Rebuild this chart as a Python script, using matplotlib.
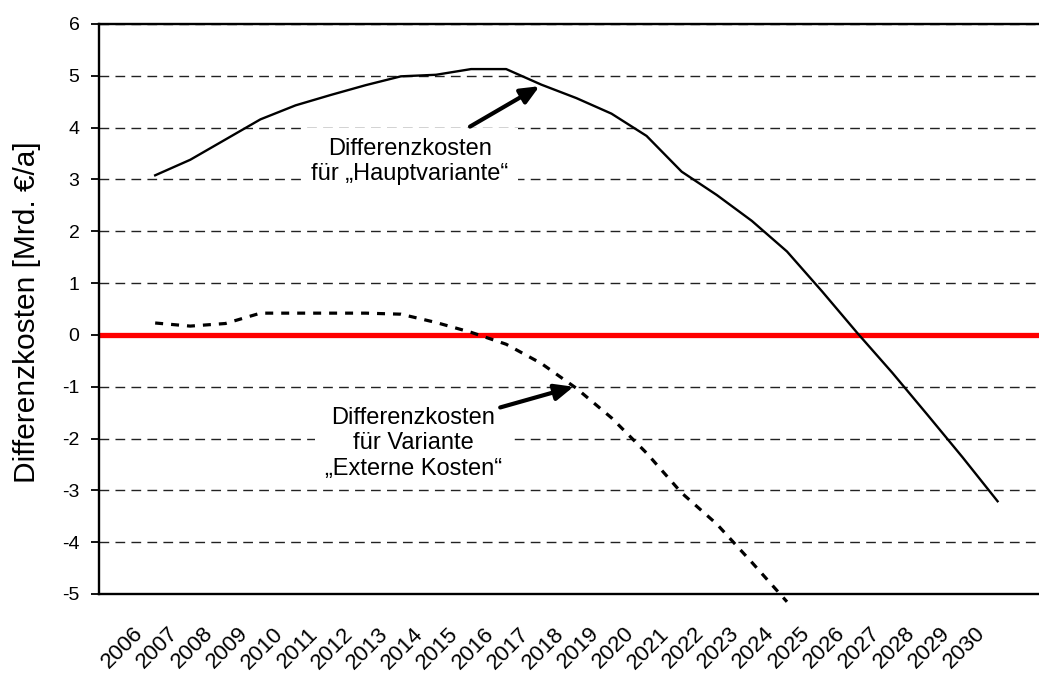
# -*- coding: utf-8 -*-
"""
Differenzkosten 2006-2030: Hauptvariante vs. Variante "Externe Kosten".
"""

import matplotlib
matplotlib.use("Agg")
import matplotlib.pyplot as plt
import matplotlib.transforms as mtransforms
import numpy as np

plt.rcParams["font.family"] = ["Liberation Sans", "DejaVu Sans"]
plt.rcParams["axes.unicode_minus"] = False

YEARS = [
    "2006", "2007", "2008", "2009", "2010", "2011", "2012", "2013", "2014",
    "2015", "2016", "2017", "2018", "2019", "2020", "2021", "2022", "2023",
    "2024", "2025", "2026", "2027", "2028", "2029", "2030",
]

# Mrd. EUR/a
HAUPTVARIANTE = [
    3.08, 3.38, 3.77, 4.16, 4.43, 4.63, 4.82, 4.99, 5.02, 5.13, 5.13, 4.83,
    4.57, 4.27, 3.84, 3.15, 2.70, 2.20, 1.61, 0.84, 0.04, -0.73, -1.54,
    -2.36, -3.21,
]
EXTERNE_KOSTEN = [
    0.23, 0.17, 0.22, 0.42, 0.42, 0.42, 0.42, 0.40, 0.24, 0.05, -0.18,
    -0.55, -1.03, -1.60, -2.28, -3.05, -3.65, -4.39, -5.15,
    np.nan, np.nan, np.nan, np.nan, np.nan, np.nan,
]

Y_TICKS = [-5, -4, -3, -2, -1, 0, 1, 2, 3, 4, 5, 6]


def main() -> None:
    fig = plt.figure(figsize=(10.39, 6.73), dpi=100)
    ax = fig.add_axes([99 / 1039, 1 - 594 / 673, 940 / 1039, 570 / 673])

    x = np.arange(len(YEARS))

    ax.axhline(0, color="red", lw=3.8, zorder=2)
    ax.plot(x, HAUPTVARIANTE, color="black", lw=1.7, zorder=3)
    ax.plot(x, EXTERNE_KOSTEN, color="black", lw=2.3,
            linestyle=(0, (2.5, 2.5)), zorder=3, clip_on=False)

    ax.set_xlim(-1.6, 25.18)
    ax.set_ylim(-5, 6)
    ax.set_yticks(Y_TICKS)
    ax.yaxis.grid(True, color="#222222", lw=1.0, linestyle=(0, (7, 4.5)))
    ax.set_axisbelow(True)

    ax.spines["right"].set_visible(False)
    for side in ("left", "top", "bottom"):
        ax.spines[side].set_linewidth(1.7)

    ax.tick_params(axis="y", length=6, width=1.3, pad=8, labelsize=14)
    ax.tick_params(axis="x", length=0, pad=21, labelsize=16)
    ax.set_xticks(x)
    ax.set_xticklabels(YEARS, rotation=45, ha="right", va="top",
                       rotation_mode="anchor")
    offset = mtransforms.ScaledTranslation(-23 / 100, 0, fig.dpi_scale_trans)
    for lbl in ax.get_xticklabels():
        lbl.set_transform(lbl.get_transform() + offset)

    ax.set_ylabel("Differenzkosten [Mrd. €/a]", fontsize=21.5)
    ax.yaxis.set_label_coords(-0.0617, 0.495)

    box = dict(boxstyle="square,pad=0.4", fc="white", ec="none")
    ax.text(7.26, 3.35, "Differenzkosten\nfür „Hauptvariante“",
            ha="center", va="center", fontsize=17, bbox=box, zorder=5)
    ax.text(7.35, -2.09, "Differenzkosten\nfür Variante\n„Externe Kosten“",
            ha="center", va="center", fontsize=17, bbox=box, zorder=5)

    arrow = dict(arrowstyle="-|>,head_length=0.8,head_width=0.35",
                 mutation_scale=14, lw=3, color="black",
                 shrinkA=0, shrinkB=0)
    ax.annotate("", xy=(10.95, 4.8), xytext=(8.97, 4.02),
                arrowprops=arrow, zorder=6)
    ax.annotate("", xy=(11.92, -1.0), xytext=(9.83, -1.40),
                arrowprops=arrow, zorder=6)

    fig.savefig("out.png", dpi=100)
    plt.close(fig)


if __name__ == "__main__":
    main()
